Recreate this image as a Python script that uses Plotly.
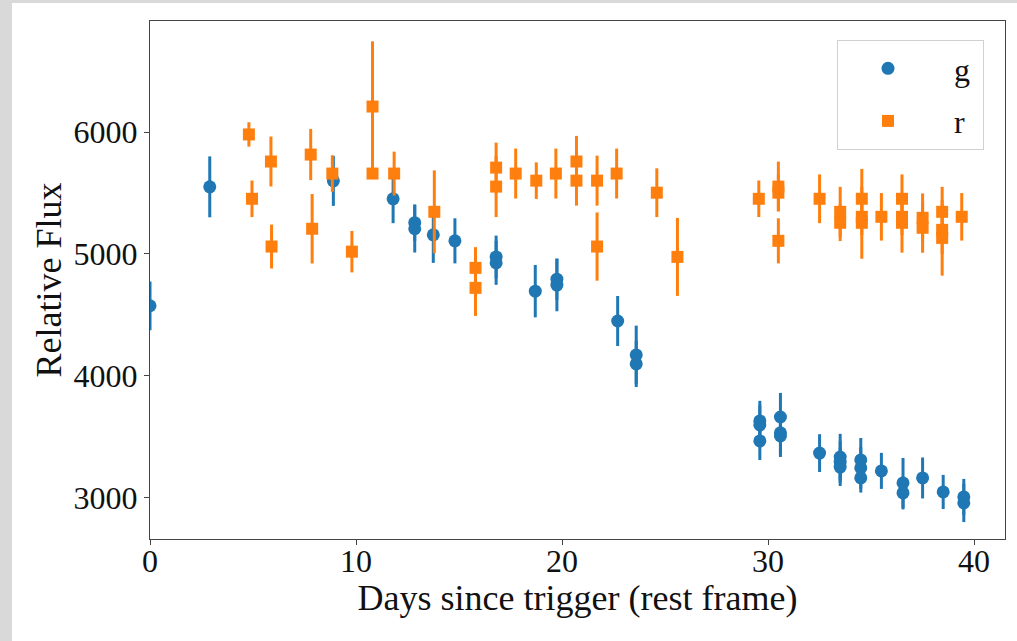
import plotly.graph_objects as go

# g-band photometry: rest-frame days, relative flux, 1-sigma uncertainty
g_days = [0.0, 2.9, 8.9, 11.8, 12.85, 12.85, 13.75, 14.8, 16.8, 16.8, 18.7,
          19.75, 19.75, 22.7, 23.6, 23.6, 29.6, 29.6, 29.6, 30.6, 30.6, 30.6,
          32.5, 33.5, 33.5, 33.5, 34.5, 34.5, 34.5, 35.5, 36.55, 36.55, 37.5,
          38.5, 39.5, 39.5]
g_flux = [4575, 5551, 5600, 5453, 5257, 5207, 5157, 5108, 4976, 4927, 4695,
          4793, 4745, 4450, 4172, 4098, 3630, 3597, 3466, 3662, 3532, 3507,
          3366, 3334, 3293, 3251, 3310, 3244, 3162, 3220, 3121, 3039, 3162,
          3047, 3006, 2957]
g_err = [200, 250, 205, 200, 150, 195, 230, 185, 175, 180, 215,
         170, 215, 205, 240, 190, 165, 160, 157, 198, 175, 173,
         155, 190, 170, 155, 180, 170, 120, 148, 205, 135, 168,
         140, 148, 157]

# r-band photometry
r_days = [4.8, 4.95, 5.87, 5.9, 7.8, 7.87, 8.85, 9.8, 10.8, 10.8, 11.85,
          13.8, 15.8, 15.8, 16.8, 16.8, 17.75, 18.75, 19.7, 20.7, 20.7,
          21.7, 21.7, 22.65, 24.6, 25.6, 29.55, 30.5, 30.5, 30.5, 32.5,
          33.5, 33.5, 34.55, 34.55, 34.55, 35.5, 36.5, 36.5, 36.5, 37.5,
          37.5, 38.45, 38.45, 38.45, 39.4]
r_flux = [5981, 5453, 5759, 5061, 5816, 5207, 5660, 5019, 6210, 5660, 5660,
          5346, 4886, 4722, 5709, 5553, 5660, 5602, 5660, 5759, 5602,
          5602, 5061, 5660, 5503, 4976, 5453, 5553, 5503, 5108, 5453,
          5346, 5256, 5453, 5305, 5256, 5305, 5453, 5305, 5256, 5297,
          5215, 5346, 5198, 5132, 5305]
r_err = [100, 150, 205, 180, 210, 285, 150, 170, 535, 40, 180,
         340, 170, 230, 205, 250, 205, 150, 205, 210, 205,
         205, 280, 205, 200, 320, 150, 205, 150, 185, 200,
         205, 150, 245, 150, 295, 195, 200, 150, 245, 200,
         205, 205, 200, 310, 195]

x_ticks = [0, 10, 20, 30, 40]
y_ticks = [3000, 4000, 5000, 6000]

BLUE = "#1f77b4"
ORANGE = "#ff7f0e"
SERIF = "Liberation Serif, Times New Roman, serif"
NB = "\u00a0"

fig = go.Figure()
fig.add_trace(go.Scatter(
    x=g_days, y=g_flux, mode="markers", name=NB * 2 + "g" + NB,
    legendgroup="g",
    marker=dict(symbol="circle", size=13, color=BLUE, line=dict(width=0)),
    error_y=dict(type="data", array=g_err, visible=True, color=BLUE,
                 thickness=3, width=0),
))
fig.add_trace(go.Scatter(
    x=r_days, y=r_flux, mode="markers", name=NB * 2 + "r" + NB,
    legendgroup="r",
    marker=dict(symbol="square", size=12, color=ORANGE, line=dict(width=0)),
    error_y=dict(type="data", array=r_err, visible=True, color=ORANGE,
                 thickness=3, width=0),
))

W, H = 1017, 641
L, R, T, B = 150, 12, 21, 102
pw, ph = W - L - R, H - T - B

def px_to_paper(px, py):
    return (px - L) / pw, (H - B - py) / ph

# white card over the grey textured page
x0, y1 = px_to_paper(12, 3)
x1, y0 = px_to_paper(W, H)
shapes = [dict(type="rect", xref="paper", yref="paper", x0=x0, x1=x1, y0=y0,
               y1=y1, fillcolor="white", line=dict(width=0), layer="below")]

axis_common = dict(
    showgrid=False, zeroline=False, showline=True, linecolor="#444",
    linewidth=1.2, mirror=True, ticks="outside", ticklen=5, tickwidth=1,
    tickcolor="#444", automargin=False,
    tickfont=dict(family=SERIF, size=32, color="#111"),
)

lx, ly = px_to_paper(837, 40)
fig.update_layout(
    width=W, height=H,
    margin=dict(l=L, r=R, t=T, b=B),
    paper_bgcolor="#d9d9d9", plot_bgcolor="white",
    shapes=shapes,
    xaxis=dict(range=[0, 41.5], tickvals=x_ticks, ticklabelstandoff=-12,
               title=dict(text="Days since trigger (rest frame)", standoff=7,
                          font=dict(family=SERIF, size=36, color="#111")),
               **axis_common),
    yaxis=dict(range=[2661, 6912], tickvals=y_ticks,
               title=dict(text="Relative Flux", standoff=0,
                          font=dict(family=SERIF, size=36, color="#111")),
               **axis_common),
    legend=dict(x=lx, y=ly, xanchor="left", yanchor="top",
                bgcolor="white", bordercolor="#d0d0d0", borderwidth=1,
                font=dict(family=SERIF, size=32, color="#111"),
                tracegroupgap=8, itemsizing="trace", itemwidth=90),
    showlegend=True,
)

fig.write_html("out.html")
